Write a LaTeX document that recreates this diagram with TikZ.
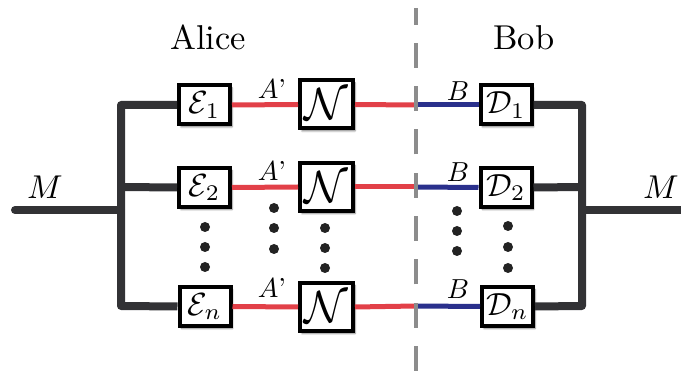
\documentclass[tikz,border=0pt]{standalone}
\usetikzlibrary{shadows.blur}
\definecolor{barc}{RGB}{50,50,53}
\definecolor{redl}{RGB}{226,64,72}
\definecolor{bluel}{RGB}{42,48,140}
\definecolor{dashg}{RGB}{140,140,140}
\definecolor{dotc}{RGB}{35,35,35}
\newcommand{\boxtxt}[1]{\scalebox{3.2}{$#1$}}
\newcommand{\chantxt}[1]{\scalebox{4.5}{$#1$}}
\newcommand{\bigtxt}[1]{\scalebox{3.45}{#1}}
\newcommand{\mtxt}[1]{\scalebox{3.3}{#1}}
\newcommand{\smalltxt}[1]{\scalebox{2.75}{#1}}
\begin{document}
\begin{tikzpicture}[x=1pt,y=-1pt,
  box/.style={draw=black, line width=4pt, fill=white, inner sep=0pt,
    minimum width=51pt, minimum height=39pt,
    blur shadow={shadow xshift=2pt, shadow yshift=-2.5pt, shadow blur steps=6, shadow opacity=50}},
  nbox/.style={box, minimum width=53pt, minimum height=48pt},
  thick bar/.style={draw=barc, line width=8pt, line join=round},
  redline/.style={draw=redl, line width=5pt},
  blueline/.style={draw=bluel, line width=5pt},
  divider/.style={draw=dashg, line width=3.5pt, dash pattern=on 25pt off 18.3pt},
  lbl/.style={inner sep=0pt},
  dotstyle/.style={fill=dotc}
]
\useasboundingbox (0,0) rectangle (681,371);

% titles
\node[lbl] (alice) at (208,37) {\bigtxt{Alice}};
\node[lbl] (bob) at (524,38) {\bigtxt{Bob}};
\node[lbl] (mleft) at (45,187) {\mtxt{$M$}};
\node[lbl] (mright) at (661,187) {\mtxt{$M$}};

% junction coordinates
\coordinate (ml) at (15,210);
\coordinate (jl1) at (121,105);
\coordinate (jl2) at (121,187);
\coordinate (jlm) at (121,210);
\coordinate (jln) at (121,306);
\coordinate (mr) at (682,210);
\coordinate (jr1) at (582,105);
\coordinate (jr2) at (582,187);
\coordinate (jrm) at (582,210);
\coordinate (jrn) at (582,306);
\coordinate (c1) at (416,105);
\coordinate (c2) at (416,187);
\coordinate (cn) at (416,306);
\coordinate (dtop) at (416,8);
\coordinate (dbot) at (416,371);

% wires first (boxes drawn over)
\draw[thick bar, line cap=round] (ml) -- (jlm);
\draw[thick bar] (mr) -- (jrm);

% boxes
\node[box] (E1) at (204.5,105) {\boxtxt{\mathcal{E}_1}};
\node[box] (E2) at (204.5,187.5) {\boxtxt{\mathcal{E}_2}};
\node[box] (En) at (205,306.5) {\boxtxt{\mathcal{E}_n}};
\node[nbox] (N1) at (326.5,104.5) {\chantxt{\mathcal{N}}};
\node[nbox] (N2) at (326.5,187) {\chantxt{\mathcal{N}}};
\node[nbox] (Nn) at (326.5,307) {\chantxt{\mathcal{N}}};
\node[box] (D1) at (506,105) {\boxtxt{\mathcal{D}_1}};
\node[box] (D2) at (506,187.5) {\boxtxt{\mathcal{D}_2}};
\node[box] (Dn) at (507.5,306.5) {\boxtxt{\mathcal{D}_n}};

% left tree
\draw[thick bar] (E1.west) -- (jl1) -- (jln) -- (En.west);
\draw[thick bar] (E2.west) -- (jl2);
% right tree
\draw[thick bar] (D1.east) -- (jr1) -- (jrn) -- (Dn.east);
\draw[thick bar] (D2.east) -- (jr2);

% channel wires
\draw[redline] (E1.east) -- (N1.west);
\draw[redline] (E2.east) -- (N2.west);
\draw[redline] (En.east) -- (Nn.west);
\draw[redline] (N1.east) -- (c1);
\draw[redline] (N2.east) -- (c2);
\draw[redline] (Nn.east) -- (cn);
\draw[blueline] (c1) -- (D1.west);
\draw[blueline] (c2) -- (D2.west);
\draw[blueline] (cn) -- (Dn.west);

% divider
\draw[divider] (dbot) -- (dtop);

% wire labels
\node[lbl] (a1) at (272,89) {\smalltxt{$A$'}};
\node[lbl] (a2) at (272,171) {\smalltxt{$A$'}};
\node[lbl] (an) at (272,288) {\smalltxt{$A$'}};
\node[lbl] (b1) at (458,91) {\smalltxt{$B$}};
\node[lbl] (b2) at (458,172) {\smalltxt{$B$}};
\node[lbl] (bn) at (458,289) {\smalltxt{$B$}};

% vertical ellipses
\foreach \x/\ya/\yb/\yc in {205/227/247/267, 274/208/228/249, 325/228/248/268, 457/211/231/251, 508/226/247/268}{
  \fill[dotstyle] (\x,\ya) circle (5pt);
  \fill[dotstyle] (\x,\yb) circle (5pt);
  \fill[dotstyle] (\x,\yc) circle (5pt);
}
\end{tikzpicture}
\end{document}
